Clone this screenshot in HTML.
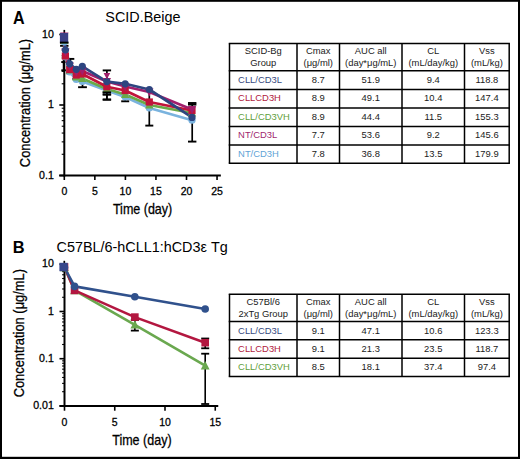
<!DOCTYPE html>
<html><head><meta charset="utf-8"><style>
html,body{margin:0;padding:0;background:#fff;overflow:hidden;}
svg{display:block;}
text{font-family:"Liberation Sans", sans-serif;}
.ax text, text.ax{stroke:#000;stroke-width:0.28px;}
</style></head><body>
<svg width="520" height="459" viewBox="0 0 520 459">
<rect width="520" height="459" fill="#fff"/>
<rect x="0" y="0" width="520" height="1.8" fill="#000"/><rect x="0" y="0" width="2" height="459" fill="#000"/><rect x="518" y="0" width="2" height="459" fill="#000"/><rect x="0" y="456.8" width="520" height="2.2" fill="#000"/>
<text transform="translate(13.0,23.6) scale(0.92,1)" font-size="17.5" text-anchor="start" fill="#000" font-weight="bold" >A</text>
<text x="142.9" y="22.3" font-size="14.4" text-anchor="middle" fill="#000" font-weight="normal" >SCID.Beige</text>
<text transform="translate(12.7,252.9) scale(0.95,1)" font-size="17.3" text-anchor="start" fill="#000" font-weight="bold" >B</text>
<text x="56.5" y="251.6" font-size="14.4" text-anchor="start" fill="#000" font-weight="normal" >C57BL/6-hCLL1:hCD3ε Tg</text>
<line x1="64.3" y1="34.0" x2="64.3" y2="176.5" stroke="#000" stroke-width="2"/>
<line x1="59.3" y1="175.5" x2="220.85000000000002" y2="175.5" stroke="#000" stroke-width="2"/>
<line x1="59.3" y1="34.5" x2="64.3" y2="34.5" stroke="#000" stroke-width="1.6"/>
<line x1="59.3" y1="105.0" x2="64.3" y2="105.0" stroke="#000" stroke-width="1.6"/>
<line x1="59.3" y1="175.5" x2="64.3" y2="175.5" stroke="#000" stroke-width="1.6"/>
<line x1="61.699999999999996" y1="83.78" x2="64.3" y2="83.78" stroke="#000" stroke-width="1.1"/>
<line x1="61.699999999999996" y1="71.36" x2="64.3" y2="71.36" stroke="#000" stroke-width="1.1"/>
<line x1="61.699999999999996" y1="62.55" x2="64.3" y2="62.55" stroke="#000" stroke-width="1.1"/>
<line x1="61.699999999999996" y1="55.72" x2="64.3" y2="55.72" stroke="#000" stroke-width="1.1"/>
<line x1="61.699999999999996" y1="50.14" x2="64.3" y2="50.14" stroke="#000" stroke-width="1.1"/>
<line x1="61.699999999999996" y1="45.42" x2="64.3" y2="45.42" stroke="#000" stroke-width="1.1"/>
<line x1="61.699999999999996" y1="41.33" x2="64.3" y2="41.33" stroke="#000" stroke-width="1.1"/>
<line x1="61.699999999999996" y1="37.73" x2="64.3" y2="37.73" stroke="#000" stroke-width="1.1"/>
<line x1="61.699999999999996" y1="154.28" x2="64.3" y2="154.28" stroke="#000" stroke-width="1.1"/>
<line x1="61.699999999999996" y1="141.86" x2="64.3" y2="141.86" stroke="#000" stroke-width="1.1"/>
<line x1="61.699999999999996" y1="133.05" x2="64.3" y2="133.05" stroke="#000" stroke-width="1.1"/>
<line x1="61.699999999999996" y1="126.22" x2="64.3" y2="126.22" stroke="#000" stroke-width="1.1"/>
<line x1="61.699999999999996" y1="120.64" x2="64.3" y2="120.64" stroke="#000" stroke-width="1.1"/>
<line x1="61.699999999999996" y1="115.92" x2="64.3" y2="115.92" stroke="#000" stroke-width="1.1"/>
<line x1="61.699999999999996" y1="111.83" x2="64.3" y2="111.83" stroke="#000" stroke-width="1.1"/>
<line x1="61.699999999999996" y1="108.23" x2="64.3" y2="108.23" stroke="#000" stroke-width="1.1"/>
<text x="53.8" y="37.5" font-size="10.6" text-anchor="end" fill="#000" font-weight="normal" class="ax">10</text>
<text x="53.8" y="108.0" font-size="10.6" text-anchor="end" fill="#000" font-weight="normal" class="ax">1</text>
<text x="53.8" y="178.5" font-size="10.6" text-anchor="end" fill="#000" font-weight="normal" class="ax">0.1</text>
<line x1="64.30" y1="175.5" x2="64.30" y2="180.0" stroke="#000" stroke-width="1.6"/>
<text x="64.3" y="194.7" font-size="10.5" text-anchor="middle" fill="#000" font-weight="normal" class="ax">0</text>
<line x1="94.85" y1="175.5" x2="94.85" y2="180.0" stroke="#000" stroke-width="1.6"/>
<text x="94.85" y="194.7" font-size="10.5" text-anchor="middle" fill="#000" font-weight="normal" class="ax">5</text>
<line x1="125.40" y1="175.5" x2="125.40" y2="180.0" stroke="#000" stroke-width="1.6"/>
<text x="125.4" y="194.7" font-size="10.5" text-anchor="middle" fill="#000" font-weight="normal" class="ax">10</text>
<line x1="155.95" y1="175.5" x2="155.95" y2="180.0" stroke="#000" stroke-width="1.6"/>
<text x="155.95" y="194.7" font-size="10.5" text-anchor="middle" fill="#000" font-weight="normal" class="ax">15</text>
<line x1="186.50" y1="175.5" x2="186.50" y2="180.0" stroke="#000" stroke-width="1.6"/>
<text x="186.5" y="194.7" font-size="10.5" text-anchor="middle" fill="#000" font-weight="normal" class="ax">20</text>
<line x1="217.05" y1="175.5" x2="217.05" y2="180.0" stroke="#000" stroke-width="1.6"/>
<text x="217.05" y="194.7" font-size="10.5" text-anchor="middle" fill="#000" font-weight="normal" class="ax">25</text>
<text transform="translate(142.6,214.4) scale(0.895,1)" font-size="14" text-anchor="middle" fill="#000" font-weight="normal" class="ax">Time (day)</text>
<text transform="translate(29.6,103) rotate(-90) scale(0.92,1)" font-size="14" text-anchor="middle" class="ax">Concentration (μg/mL)</text>
<line x1="64.30" y1="29.9" x2="64.30" y2="46" stroke="#000" stroke-width="1.7"/>
<line x1="60.10" y1="42.6" x2="68.50" y2="42.6" stroke="#000" stroke-width="1.9"/>
<line x1="60.10" y1="45.8" x2="68.50" y2="45.8" stroke="#000" stroke-width="1.9"/>
<line x1="63.60" y1="60" x2="63.60" y2="70.3" stroke="#000" stroke-width="1.7"/>
<line x1="61.30" y1="62" x2="65.90" y2="62" stroke="#000" stroke-width="1.9"/>
<line x1="61.30" y1="70.3" x2="65.90" y2="70.3" stroke="#000" stroke-width="1.9"/>
<line x1="70.30" y1="58.9" x2="70.30" y2="73.3" stroke="#000" stroke-width="1.7"/>
<line x1="66.30" y1="58.9" x2="74.30" y2="58.9" stroke="#000" stroke-width="1.9"/>
<line x1="66.30" y1="73.3" x2="74.30" y2="73.3" stroke="#000" stroke-width="1.9"/>
<line x1="76.00" y1="72" x2="76.00" y2="79" stroke="#000" stroke-width="1.7"/>
<line x1="72.40" y1="79" x2="79.60" y2="79" stroke="#000" stroke-width="1.9"/>
<line x1="82.50" y1="70" x2="82.50" y2="87.2" stroke="#000" stroke-width="1.7"/>
<line x1="78.10" y1="87.2" x2="86.90" y2="87.2" stroke="#000" stroke-width="1.9"/>
<line x1="106.90" y1="70.4" x2="106.90" y2="99.6" stroke="#000" stroke-width="1.7"/>
<line x1="102.70" y1="70.4" x2="111.10" y2="70.4" stroke="#000" stroke-width="1.9"/>
<line x1="102.70" y1="92.2" x2="111.10" y2="92.2" stroke="#000" stroke-width="1.9"/>
<line x1="102.70" y1="94.4" x2="111.10" y2="94.4" stroke="#000" stroke-width="1.9"/>
<line x1="102.70" y1="99.6" x2="111.10" y2="99.6" stroke="#000" stroke-width="1.9"/>
<line x1="125.20" y1="88" x2="125.20" y2="101.3" stroke="#000" stroke-width="1.7"/>
<line x1="121.20" y1="101.3" x2="129.20" y2="101.3" stroke="#000" stroke-width="1.9"/>
<line x1="149.30" y1="94.3" x2="149.30" y2="125.6" stroke="#000" stroke-width="1.7"/>
<line x1="145.30" y1="125.6" x2="153.30" y2="125.6" stroke="#000" stroke-width="1.9"/>
<line x1="192.20" y1="103" x2="192.20" y2="141.6" stroke="#000" stroke-width="1.7"/>
<line x1="188.00" y1="103" x2="196.40" y2="103" stroke="#000" stroke-width="1.9"/>
<line x1="188.00" y1="104.6" x2="196.40" y2="104.6" stroke="#000" stroke-width="1.9"/>
<line x1="188.00" y1="141.6" x2="196.40" y2="141.6" stroke="#000" stroke-width="1.9"/>
<polyline points="64.30,42 65.40,57 69.70,72 76.30,79.5 82.30,81.5 106.80,90.5 125.20,97 149.30,108 192.00,120.2" fill="none" stroke="#7ab3de" stroke-width="2.7" stroke-linejoin="round"/>
<polyline points="64.30,40 65.40,55 69.70,70 76.30,77 82.30,78.5 106.80,89 125.20,94.5 149.30,105 192.00,113" fill="none" stroke="#6aaa48" stroke-width="2.7" stroke-linejoin="round"/>
<polyline points="64.30,38 65.40,56 69.70,69.5 76.30,75 82.30,74 106.80,86.7 125.20,90.5 149.30,102 192.00,110.5" fill="none" stroke="#c0143a" stroke-width="2.7" stroke-linejoin="round"/>
<polyline points="64.30,36 65.40,52 69.70,66 76.30,72 82.30,71 106.80,81.5 125.20,86.5 149.30,92 192.00,109.6" fill="none" stroke="#a11e6c" stroke-width="2.7" stroke-linejoin="round"/>
<polyline points="64.30,37 65.40,50 69.70,63.8 76.30,69.3 82.30,66.3 106.80,81.6 125.20,83.8 149.30,89.5 192.00,117.4" fill="none" stroke="#2d4580" stroke-width="2.7" stroke-linejoin="round"/>
<circle cx="64.30" cy="42.00" r="3.6" fill="#7ab3de"/>
<circle cx="65.40" cy="57.00" r="3.6" fill="#7ab3de"/>
<circle cx="69.70" cy="72.00" r="3.6" fill="#7ab3de"/>
<circle cx="76.30" cy="79.50" r="3.6" fill="#7ab3de"/>
<circle cx="82.30" cy="81.50" r="3.6" fill="#7ab3de"/>
<circle cx="106.80" cy="90.50" r="3.6" fill="#7ab3de"/>
<circle cx="125.20" cy="97.00" r="3.6" fill="#7ab3de"/>
<circle cx="149.30" cy="108.00" r="3.6" fill="#7ab3de"/>
<circle cx="192.00" cy="120.20" r="3.6" fill="#7ab3de"/>
<polygon points="64.30,35.60 68.50,43.60 60.10,43.60" fill="#6aaa48"/>
<polygon points="65.40,50.60 69.60,58.60 61.20,58.60" fill="#6aaa48"/>
<polygon points="69.70,65.60 73.90,73.60 65.50,73.60" fill="#6aaa48"/>
<polygon points="76.30,72.60 80.50,80.60 72.10,80.60" fill="#6aaa48"/>
<polygon points="82.30,74.10 86.50,82.10 78.10,82.10" fill="#6aaa48"/>
<polygon points="106.80,84.60 111.00,92.60 102.60,92.60" fill="#6aaa48"/>
<polygon points="125.20,90.10 129.40,98.10 121.00,98.10" fill="#6aaa48"/>
<polygon points="149.30,100.60 153.50,108.60 145.10,108.60" fill="#6aaa48"/>
<polygon points="192.00,108.60 196.20,116.60 187.80,116.60" fill="#6aaa48"/>
<rect x="60.70" y="34.40" width="7.2" height="7.2" fill="#c0143a"/>
<rect x="61.80" y="52.40" width="7.2" height="7.2" fill="#c0143a"/>
<rect x="66.10" y="65.90" width="7.2" height="7.2" fill="#c0143a"/>
<rect x="72.70" y="71.40" width="7.2" height="7.2" fill="#c0143a"/>
<rect x="78.70" y="70.40" width="7.2" height="7.2" fill="#c0143a"/>
<rect x="103.20" y="83.10" width="7.2" height="7.2" fill="#c0143a"/>
<rect x="121.60" y="86.90" width="7.2" height="7.2" fill="#c0143a"/>
<rect x="145.70" y="98.40" width="7.2" height="7.2" fill="#c0143a"/>
<rect x="188.40" y="106.90" width="7.2" height="7.2" fill="#c0143a"/>
<polygon points="64.30,40.40 68.50,32.40 60.10,32.40" fill="#a11e6c"/>
<polygon points="65.40,56.40 69.60,48.40 61.20,48.40" fill="#a11e6c"/>
<polygon points="69.70,70.40 73.90,62.40 65.50,62.40" fill="#a11e6c"/>
<polygon points="76.30,76.40 80.50,68.40 72.10,68.40" fill="#a11e6c"/>
<polygon points="82.30,75.40 86.50,67.40 78.10,67.40" fill="#a11e6c"/>
<polygon points="106.80,85.90 111.00,77.90 102.60,77.90" fill="#a11e6c"/>
<polygon points="125.20,90.90 129.40,82.90 121.00,82.90" fill="#a11e6c"/>
<polygon points="149.30,96.40 153.50,88.40 145.10,88.40" fill="#a11e6c"/>
<polygon points="192.00,114.00 196.20,106.00 187.80,106.00" fill="#a11e6c"/>
<circle cx="64.30" cy="37.00" r="3.6" fill="#2d4580"/>
<circle cx="65.40" cy="50.00" r="3.6" fill="#2d4580"/>
<circle cx="69.70" cy="63.80" r="3.6" fill="#2d4580"/>
<circle cx="76.30" cy="69.30" r="3.6" fill="#2d4580"/>
<circle cx="82.30" cy="66.30" r="3.6" fill="#2d4580"/>
<circle cx="106.80" cy="81.60" r="3.6" fill="#2d4580"/>
<circle cx="125.20" cy="83.80" r="3.6" fill="#2d4580"/>
<circle cx="149.30" cy="89.50" r="3.6" fill="#2d4580"/>
<circle cx="192.00" cy="117.40" r="3.6" fill="#2d4580"/>
<rect x="59.9" y="33" width="8.3" height="9.6" fill="#3b3f86"/>
<polygon points="106.90,79.30 110.20,73.10 103.60,73.10" fill="#a11e6c"/>
<line x1="102.7" y1="92.4" x2="111.1" y2="92.4" stroke="#000" stroke-width="1.9"/>
<line x1="102.7" y1="94.6" x2="111.1" y2="94.6" stroke="#000" stroke-width="1.9"/>
<line x1="102.7" y1="99.6" x2="111.1" y2="99.6" stroke="#000" stroke-width="1.9"/>
<line x1="106.9" y1="92" x2="106.9" y2="99.6" stroke="#000" stroke-width="1.7"/>
<line x1="59.9" y1="42.6" x2="68.2" y2="42.6" stroke="#000" stroke-width="1.9"/>
<line x1="64.5" y1="263.8" x2="64.5" y2="406.9" stroke="#000" stroke-width="2"/>
<line x1="59.5" y1="405.9" x2="218.25" y2="405.9" stroke="#000" stroke-width="2"/>
<line x1="59.5" y1="264.3" x2="64.5" y2="264.3" stroke="#000" stroke-width="1.6"/>
<line x1="59.5" y1="311.5" x2="64.5" y2="311.5" stroke="#000" stroke-width="1.6"/>
<line x1="59.5" y1="358.7" x2="64.5" y2="358.7" stroke="#000" stroke-width="1.6"/>
<line x1="59.5" y1="405.9" x2="64.5" y2="405.9" stroke="#000" stroke-width="1.6"/>
<line x1="62.1" y1="297.29" x2="64.5" y2="297.29" stroke="#000" stroke-width="1.1"/>
<line x1="62.1" y1="288.98" x2="64.5" y2="288.98" stroke="#000" stroke-width="1.1"/>
<line x1="62.1" y1="283.08" x2="64.5" y2="283.08" stroke="#000" stroke-width="1.1"/>
<line x1="62.1" y1="278.51" x2="64.5" y2="278.51" stroke="#000" stroke-width="1.1"/>
<line x1="62.1" y1="274.77" x2="64.5" y2="274.77" stroke="#000" stroke-width="1.1"/>
<line x1="62.1" y1="271.61" x2="64.5" y2="271.61" stroke="#000" stroke-width="1.1"/>
<line x1="62.1" y1="268.87" x2="64.5" y2="268.87" stroke="#000" stroke-width="1.1"/>
<line x1="62.1" y1="266.46" x2="64.5" y2="266.46" stroke="#000" stroke-width="1.1"/>
<line x1="62.1" y1="344.49" x2="64.5" y2="344.49" stroke="#000" stroke-width="1.1"/>
<line x1="62.1" y1="336.18" x2="64.5" y2="336.18" stroke="#000" stroke-width="1.1"/>
<line x1="62.1" y1="330.28" x2="64.5" y2="330.28" stroke="#000" stroke-width="1.1"/>
<line x1="62.1" y1="325.71" x2="64.5" y2="325.71" stroke="#000" stroke-width="1.1"/>
<line x1="62.1" y1="321.97" x2="64.5" y2="321.97" stroke="#000" stroke-width="1.1"/>
<line x1="62.1" y1="318.81" x2="64.5" y2="318.81" stroke="#000" stroke-width="1.1"/>
<line x1="62.1" y1="316.07" x2="64.5" y2="316.07" stroke="#000" stroke-width="1.1"/>
<line x1="62.1" y1="313.66" x2="64.5" y2="313.66" stroke="#000" stroke-width="1.1"/>
<line x1="62.1" y1="391.69" x2="64.5" y2="391.69" stroke="#000" stroke-width="1.1"/>
<line x1="62.1" y1="383.38" x2="64.5" y2="383.38" stroke="#000" stroke-width="1.1"/>
<line x1="62.1" y1="377.48" x2="64.5" y2="377.48" stroke="#000" stroke-width="1.1"/>
<line x1="62.1" y1="372.91" x2="64.5" y2="372.91" stroke="#000" stroke-width="1.1"/>
<line x1="62.1" y1="369.17" x2="64.5" y2="369.17" stroke="#000" stroke-width="1.1"/>
<line x1="62.1" y1="366.01" x2="64.5" y2="366.01" stroke="#000" stroke-width="1.1"/>
<line x1="62.1" y1="363.27" x2="64.5" y2="363.27" stroke="#000" stroke-width="1.1"/>
<line x1="62.1" y1="360.86" x2="64.5" y2="360.86" stroke="#000" stroke-width="1.1"/>
<text x="53.8" y="267.3" font-size="10.6" text-anchor="end" fill="#000" font-weight="normal" class="ax">10</text>
<text x="53.8" y="314.5" font-size="10.6" text-anchor="end" fill="#000" font-weight="normal" class="ax">1</text>
<text x="53.8" y="361.7" font-size="10.6" text-anchor="end" fill="#000" font-weight="normal" class="ax">0.1</text>
<text x="53.8" y="408.9" font-size="10.6" text-anchor="end" fill="#000" font-weight="normal" class="ax">0.01</text>
<line x1="64.50" y1="405.9" x2="64.50" y2="410.7" stroke="#000" stroke-width="1.6"/>
<text x="64.5" y="426.0" font-size="10.5" text-anchor="middle" fill="#000" font-weight="normal" class="ax">0</text>
<line x1="114.75" y1="405.9" x2="114.75" y2="410.7" stroke="#000" stroke-width="1.6"/>
<text x="114.75" y="426.0" font-size="10.5" text-anchor="middle" fill="#000" font-weight="normal" class="ax">5</text>
<line x1="165.00" y1="405.9" x2="165.00" y2="410.7" stroke="#000" stroke-width="1.6"/>
<text x="165.0" y="426.0" font-size="10.5" text-anchor="middle" fill="#000" font-weight="normal" class="ax">10</text>
<line x1="215.25" y1="405.9" x2="215.25" y2="410.7" stroke="#000" stroke-width="1.6"/>
<text x="215.25" y="426.0" font-size="10.5" text-anchor="middle" fill="#000" font-weight="normal" class="ax">15</text>
<text transform="translate(141.9,444.6) scale(0.895,1)" font-size="14" text-anchor="middle" fill="#000" font-weight="normal" class="ax">Time (day)</text>
<text transform="translate(23.6,333.2) rotate(-90) scale(0.92,1)" font-size="14" text-anchor="middle" class="ax">Concentration (μg/mL)</text>
<line x1="134.85" y1="320" x2="134.85" y2="330.6" stroke="#000" stroke-width="1.6"/><line x1="130.85" y1="320" x2="138.85" y2="320" stroke="#000" stroke-width="1.8"/><line x1="130.85" y1="330.6" x2="138.85" y2="330.6" stroke="#000" stroke-width="1.8"/>
<line x1="205.20" y1="338.5" x2="205.20" y2="348.3" stroke="#000" stroke-width="1.6"/><line x1="201.20" y1="338.5" x2="209.20" y2="338.5" stroke="#000" stroke-width="1.8"/><line x1="201.20" y1="348.3" x2="209.20" y2="348.3" stroke="#000" stroke-width="1.8"/>
<line x1="205.20" y1="353.7" x2="205.20" y2="404" stroke="#000" stroke-width="1.6"/><line x1="201.20" y1="353.7" x2="209.20" y2="353.7" stroke="#000" stroke-width="1.8"/><line x1="201.20" y1="404" x2="209.20" y2="404" stroke="#000" stroke-width="1.8"/>
<polyline points="64.50,267.39 74.55,290.39 134.85,324.80 205.20,365.70" fill="none" stroke="#6aa84f" stroke-width="2.6" stroke-linejoin="round"/>
<polyline points="64.50,266.92 74.55,290.40 134.85,317.10 205.20,342.70" fill="none" stroke="#b31740" stroke-width="2.6" stroke-linejoin="round"/>
<polyline points="64.50,267.50 74.55,286.40 134.85,296.80 205.20,309.00" fill="none" stroke="#30518c" stroke-width="2.6" stroke-linejoin="round"/>
<polygon points="64.50,262.79 68.90,271.19 60.10,271.19" fill="#6aa84f"/>
<polygon points="74.55,285.79 78.95,294.19 70.15,294.19" fill="#6aa84f"/>
<polygon points="134.85,320.20 139.25,328.60 130.45,328.60" fill="#6aa84f"/>
<polygon points="205.20,361.10 209.60,369.50 200.80,369.50" fill="#6aa84f"/>
<rect x="60.70" y="263.12" width="7.6" height="7.6" fill="#b31740"/>
<rect x="70.75" y="286.60" width="7.6" height="7.6" fill="#b31740"/>
<rect x="131.05" y="313.30" width="7.6" height="7.6" fill="#b31740"/>
<rect x="201.40" y="338.90" width="7.6" height="7.6" fill="#b31740"/>
<circle cx="64.50" cy="267.50" r="3.8" fill="#30518c"/>
<circle cx="74.55" cy="286.40" r="3.8" fill="#30518c"/>
<circle cx="134.85" cy="296.80" r="3.8" fill="#30518c"/>
<circle cx="205.20" cy="309.00" r="3.8" fill="#30518c"/>
<line x1="64.3" y1="260.8" x2="64.3" y2="264" stroke="#000" stroke-width="1.7"/>
<rect x="59.4" y="262.8" width="8.3" height="8.4" fill="#37468a"/>
<line x1="228.75" y1="43.5" x2="509.95" y2="43.5" stroke="#000" stroke-width="1.5"/>
<line x1="228.75" y1="70.8" x2="509.95" y2="70.8" stroke="#000" stroke-width="1.5"/>
<line x1="228.75" y1="89.4" x2="509.95" y2="89.4" stroke="#000" stroke-width="1.5"/>
<line x1="228.75" y1="108" x2="509.95" y2="108" stroke="#000" stroke-width="1.5"/>
<line x1="228.75" y1="126.5" x2="509.95" y2="126.5" stroke="#000" stroke-width="1.5"/>
<line x1="228.75" y1="145" x2="509.95" y2="145" stroke="#000" stroke-width="1.5"/>
<line x1="228.75" y1="163.3" x2="509.95" y2="163.3" stroke="#000" stroke-width="1.5"/>
<line x1="229.5" y1="43.5" x2="229.5" y2="163.3" stroke="#000" stroke-width="1.5"/>
<line x1="297" y1="43.5" x2="297" y2="163.3" stroke="#000" stroke-width="1.5"/>
<line x1="339.5" y1="43.5" x2="339.5" y2="163.3" stroke="#000" stroke-width="1.5"/>
<line x1="402" y1="43.5" x2="402" y2="163.3" stroke="#000" stroke-width="1.5"/>
<line x1="464.5" y1="43.5" x2="464.5" y2="163.3" stroke="#000" stroke-width="1.5"/>
<line x1="509.2" y1="43.5" x2="509.2" y2="163.3" stroke="#000" stroke-width="1.5"/>
<text transform="translate(263.25,54.1) scale(0.95,1)" font-size="9.9" text-anchor="middle" fill="#1a1a1a" font-weight="normal" >SCID-Bg</text>
<text transform="translate(263.25,65.9) scale(0.95,1)" font-size="9.9" text-anchor="middle" fill="#1a1a1a" font-weight="normal" >Group</text>
<text transform="translate(318.25,54.1) scale(0.95,1)" font-size="9.9" text-anchor="middle" fill="#1a1a1a" font-weight="normal" >Cmax</text>
<text transform="translate(318.25,65.9) scale(0.95,1)" font-size="9.9" text-anchor="middle" fill="#1a1a1a" font-weight="normal" >(μg/ml)</text>
<text transform="translate(370.75,54.1) scale(0.95,1)" font-size="9.9" text-anchor="middle" fill="#1a1a1a" font-weight="normal" >AUC all</text>
<text transform="translate(370.75,65.9) scale(0.95,1)" font-size="9.9" text-anchor="middle" fill="#1a1a1a" font-weight="normal" >(day*μg/mL)</text>
<text transform="translate(433.25,54.1) scale(0.95,1)" font-size="9.9" text-anchor="middle" fill="#1a1a1a" font-weight="normal" >CL</text>
<text transform="translate(433.25,65.9) scale(0.95,1)" font-size="9.9" text-anchor="middle" fill="#1a1a1a" font-weight="normal" >(mL/day/kg)</text>
<text transform="translate(486.85,54.1) scale(0.95,1)" font-size="9.9" text-anchor="middle" fill="#1a1a1a" font-weight="normal" >Vss</text>
<text transform="translate(486.85,65.9) scale(0.95,1)" font-size="9.9" text-anchor="middle" fill="#1a1a1a" font-weight="normal" >(mL/kg)</text>
<text transform="translate(238.1,82.5) scale(0.95,1)" font-size="9.9" text-anchor="start" fill="#34497e" font-weight="normal" >CLL/CD3L</text>
<text transform="translate(318.25,82.5) scale(0.95,1)" font-size="9.9" text-anchor="middle" fill="#1a1a1a" font-weight="normal" >8.7</text>
<text transform="translate(370.75,82.5) scale(0.95,1)" font-size="9.9" text-anchor="middle" fill="#1a1a1a" font-weight="normal" >51.9</text>
<text transform="translate(433.25,82.5) scale(0.95,1)" font-size="9.9" text-anchor="middle" fill="#1a1a1a" font-weight="normal" >9.4</text>
<text transform="translate(486.85,82.5) scale(0.95,1)" font-size="9.9" text-anchor="middle" fill="#1a1a1a" font-weight="normal" >118.8</text>
<text transform="translate(238.1,101.1) scale(0.95,1)" font-size="9.9" text-anchor="start" fill="#b01a40" font-weight="normal" >CLLCD3H</text>
<text transform="translate(318.25,101.1) scale(0.95,1)" font-size="9.9" text-anchor="middle" fill="#1a1a1a" font-weight="normal" >8.9</text>
<text transform="translate(370.75,101.1) scale(0.95,1)" font-size="9.9" text-anchor="middle" fill="#1a1a1a" font-weight="normal" >49.1</text>
<text transform="translate(433.25,101.1) scale(0.95,1)" font-size="9.9" text-anchor="middle" fill="#1a1a1a" font-weight="normal" >10.4</text>
<text transform="translate(486.85,101.1) scale(0.95,1)" font-size="9.9" text-anchor="middle" fill="#1a1a1a" font-weight="normal" >147.4</text>
<text transform="translate(238.1,119.65) scale(0.95,1)" font-size="9.9" text-anchor="start" fill="#5f9e3c" font-weight="normal" >CLL/CD3VH</text>
<text transform="translate(318.25,119.65) scale(0.95,1)" font-size="9.9" text-anchor="middle" fill="#1a1a1a" font-weight="normal" >8.9</text>
<text transform="translate(370.75,119.65) scale(0.95,1)" font-size="9.9" text-anchor="middle" fill="#1a1a1a" font-weight="normal" >44.4</text>
<text transform="translate(433.25,119.65) scale(0.95,1)" font-size="9.9" text-anchor="middle" fill="#1a1a1a" font-weight="normal" >11.5</text>
<text transform="translate(486.85,119.65) scale(0.95,1)" font-size="9.9" text-anchor="middle" fill="#1a1a1a" font-weight="normal" >155.3</text>
<text transform="translate(238.1,138.15) scale(0.95,1)" font-size="9.9" text-anchor="start" fill="#a01f6e" font-weight="normal" >NT/CD3L</text>
<text transform="translate(318.25,138.15) scale(0.95,1)" font-size="9.9" text-anchor="middle" fill="#1a1a1a" font-weight="normal" >7.7</text>
<text transform="translate(370.75,138.15) scale(0.95,1)" font-size="9.9" text-anchor="middle" fill="#1a1a1a" font-weight="normal" >53.6</text>
<text transform="translate(433.25,138.15) scale(0.95,1)" font-size="9.9" text-anchor="middle" fill="#1a1a1a" font-weight="normal" >9.2</text>
<text transform="translate(486.85,138.15) scale(0.95,1)" font-size="9.9" text-anchor="middle" fill="#1a1a1a" font-weight="normal" >145.6</text>
<text transform="translate(238.1,156.55) scale(0.95,1)" font-size="9.9" text-anchor="start" fill="#5fa3d6" font-weight="normal" >NT/CD3H</text>
<text transform="translate(318.25,156.55) scale(0.95,1)" font-size="9.9" text-anchor="middle" fill="#1a1a1a" font-weight="normal" >7.8</text>
<text transform="translate(370.75,156.55) scale(0.95,1)" font-size="9.9" text-anchor="middle" fill="#1a1a1a" font-weight="normal" >36.8</text>
<text transform="translate(433.25,156.55) scale(0.95,1)" font-size="9.9" text-anchor="middle" fill="#1a1a1a" font-weight="normal" >13.5</text>
<text transform="translate(486.85,156.55) scale(0.95,1)" font-size="9.9" text-anchor="middle" fill="#1a1a1a" font-weight="normal" >179.9</text>
<line x1="228.75" y1="294.2" x2="509.95" y2="294.2" stroke="#000" stroke-width="1.5"/>
<line x1="228.75" y1="321.5" x2="509.95" y2="321.5" stroke="#000" stroke-width="1.5"/>
<line x1="228.75" y1="339.8" x2="509.95" y2="339.8" stroke="#000" stroke-width="1.5"/>
<line x1="228.75" y1="358.3" x2="509.95" y2="358.3" stroke="#000" stroke-width="1.5"/>
<line x1="228.75" y1="376.6" x2="509.95" y2="376.6" stroke="#000" stroke-width="1.5"/>
<line x1="229.5" y1="294.2" x2="229.5" y2="376.6" stroke="#000" stroke-width="1.5"/>
<line x1="297" y1="294.2" x2="297" y2="376.6" stroke="#000" stroke-width="1.5"/>
<line x1="339.5" y1="294.2" x2="339.5" y2="376.6" stroke="#000" stroke-width="1.5"/>
<line x1="402" y1="294.2" x2="402" y2="376.6" stroke="#000" stroke-width="1.5"/>
<line x1="464.5" y1="294.2" x2="464.5" y2="376.6" stroke="#000" stroke-width="1.5"/>
<line x1="509.2" y1="294.2" x2="509.2" y2="376.6" stroke="#000" stroke-width="1.5"/>
<text transform="translate(263.25,304.8) scale(0.95,1)" font-size="9.9" text-anchor="middle" fill="#1a1a1a" font-weight="normal" >C57Bl/6</text>
<text transform="translate(263.25,316.6) scale(0.95,1)" font-size="9.9" text-anchor="middle" fill="#1a1a1a" font-weight="normal" >2xTg Group</text>
<text transform="translate(318.25,304.8) scale(0.95,1)" font-size="9.9" text-anchor="middle" fill="#1a1a1a" font-weight="normal" >Cmax</text>
<text transform="translate(318.25,316.6) scale(0.95,1)" font-size="9.9" text-anchor="middle" fill="#1a1a1a" font-weight="normal" >(μg/ml)</text>
<text transform="translate(370.75,304.8) scale(0.95,1)" font-size="9.9" text-anchor="middle" fill="#1a1a1a" font-weight="normal" >AUC all</text>
<text transform="translate(370.75,316.6) scale(0.95,1)" font-size="9.9" text-anchor="middle" fill="#1a1a1a" font-weight="normal" >(day*μg/mL)</text>
<text transform="translate(433.25,304.8) scale(0.95,1)" font-size="9.9" text-anchor="middle" fill="#1a1a1a" font-weight="normal" >CL</text>
<text transform="translate(433.25,316.6) scale(0.95,1)" font-size="9.9" text-anchor="middle" fill="#1a1a1a" font-weight="normal" >(mL/day/kg)</text>
<text transform="translate(486.85,304.8) scale(0.95,1)" font-size="9.9" text-anchor="middle" fill="#1a1a1a" font-weight="normal" >Vss</text>
<text transform="translate(486.85,316.6) scale(0.95,1)" font-size="9.9" text-anchor="middle" fill="#1a1a1a" font-weight="normal" >(mL/kg)</text>
<text transform="translate(238.1,333.65) scale(0.95,1)" font-size="9.9" text-anchor="start" fill="#34497e" font-weight="normal" >CLL/CD3L</text>
<text transform="translate(318.25,333.65) scale(0.95,1)" font-size="9.9" text-anchor="middle" fill="#1a1a1a" font-weight="normal" >9.1</text>
<text transform="translate(370.75,333.65) scale(0.95,1)" font-size="9.9" text-anchor="middle" fill="#1a1a1a" font-weight="normal" >47.1</text>
<text transform="translate(433.25,333.65) scale(0.95,1)" font-size="9.9" text-anchor="middle" fill="#1a1a1a" font-weight="normal" >10.6</text>
<text transform="translate(486.85,333.65) scale(0.95,1)" font-size="9.9" text-anchor="middle" fill="#1a1a1a" font-weight="normal" >123.3</text>
<text transform="translate(238.1,352.05) scale(0.95,1)" font-size="9.9" text-anchor="start" fill="#b01a40" font-weight="normal" >CLLCD3H</text>
<text transform="translate(318.25,352.05) scale(0.95,1)" font-size="9.9" text-anchor="middle" fill="#1a1a1a" font-weight="normal" >9.1</text>
<text transform="translate(370.75,352.05) scale(0.95,1)" font-size="9.9" text-anchor="middle" fill="#1a1a1a" font-weight="normal" >21.3</text>
<text transform="translate(433.25,352.05) scale(0.95,1)" font-size="9.9" text-anchor="middle" fill="#1a1a1a" font-weight="normal" >23.5</text>
<text transform="translate(486.85,352.05) scale(0.95,1)" font-size="9.9" text-anchor="middle" fill="#1a1a1a" font-weight="normal" >118.7</text>
<text transform="translate(238.1,370.45) scale(0.95,1)" font-size="9.9" text-anchor="start" fill="#5f9e3c" font-weight="normal" >CLL/CD3VH</text>
<text transform="translate(318.25,370.45) scale(0.95,1)" font-size="9.9" text-anchor="middle" fill="#1a1a1a" font-weight="normal" >8.5</text>
<text transform="translate(370.75,370.45) scale(0.95,1)" font-size="9.9" text-anchor="middle" fill="#1a1a1a" font-weight="normal" >18.1</text>
<text transform="translate(433.25,370.45) scale(0.95,1)" font-size="9.9" text-anchor="middle" fill="#1a1a1a" font-weight="normal" >37.4</text>
<text transform="translate(486.85,370.45) scale(0.95,1)" font-size="9.9" text-anchor="middle" fill="#1a1a1a" font-weight="normal" >97.4</text>
</svg>
</body></html>
